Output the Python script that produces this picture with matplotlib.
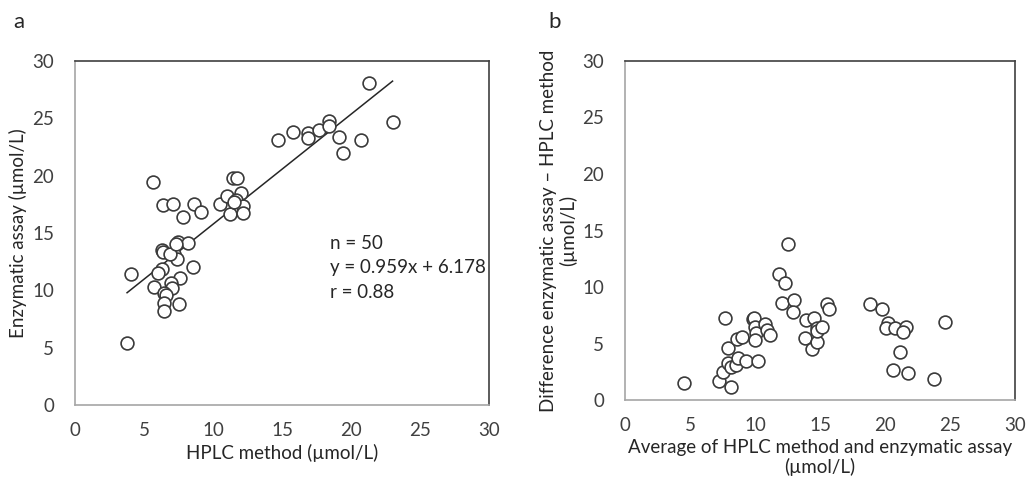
import matplotlib.pyplot as plt
import numpy as np

plt.rcParams['font.family'] = ['Lato', 'DejaVu Sans']

# panel a: HPLC method vs enzymatic assay (umol/L)
hplc = [4.06, 3.77, 6.3, 6.35, 7.46, 8.2, 7.2, 7.4, 6.3, 6.0,
        8.55, 7.6, 5.7, 6.95, 7.0, 6.45, 6.6, 6.45, 6.45, 7.5,
        5.65, 6.4, 7.1, 7.8, 8.6, 9.1, 10.5, 11.0, 11.45, 11.7,
        12.0, 11.65, 12.2, 11.2, 12.2, 14.7, 15.8, 16.9, 16.9, 17.7,
        18.4, 18.4, 19.1, 19.4, 20.7, 21.3, 23.0, 6.9, 7.3, 11.5]
enzym = [11.4, 5.4, 13.5, 13.3, 14.2, 14.1, 13.2, 12.7, 11.9, 11.5,
         12.0, 11.1, 10.3, 10.6, 10.2, 9.76, 9.6, 8.9, 8.2, 8.8,
         19.4, 17.4, 17.5, 16.4, 17.5, 16.8, 17.5, 18.2, 19.8, 19.8,
         18.5, 17.9, 17.35, 16.65, 16.7, 23.1, 23.8, 23.7, 23.3, 24.0,
         24.8, 24.3, 23.4, 22.0, 23.1, 28.07, 24.7, 13.2, 14.0, 17.7]
slope, intercept = 0.959, 6.178

# panel b: Bland-Altman style
avg = [4.5, 7.2, 8.15, 7.5, 7.7, 7.9, 7.9, 8.15, 8.5, 8.7,
       8.6, 9.0, 9.3, 10.2, 9.85, 9.9, 10.0, 10.1, 10.0, 10.8,
       10.9, 11.15, 12.5, 11.85, 12.3, 12.1, 13.0, 12.9, 13.9, 14.5,
       13.85, 14.4, 14.8, 14.8, 14.8, 15.15, 15.5, 15.7, 18.85, 19.8,
       20.2, 20.1, 20.8, 21.6, 21.4, 21.15, 20.6, 21.8, 23.8, 24.6]
diff = [1.5, 1.7, 1.15, 2.5, 7.3, 4.6, 3.3, 2.9, 3.1, 3.7,
        5.4, 5.6, 3.45, 3.45, 7.2, 7.25, 6.5, 5.9, 5.3, 6.7,
        6.2, 5.8, 13.8, 11.15, 10.4, 8.6, 8.9, 7.8, 7.1, 7.25,
        5.5, 4.5, 5.1, 6.4, 6.1, 6.5, 8.5, 8.1, 8.5, 8.1,
        6.8, 6.4, 6.4, 6.5, 6.0, 4.25, 2.65, 2.4, 1.85, 6.9]

ticks = [0, 5, 10, 15, 20, 25, 30]
fs = 13.5

fig = plt.figure(figsize=(10.29, 4.91), dpi=100)
ax1 = fig.add_axes([0.0729, 0.175, 0.4025, 0.701])
ax2 = fig.add_axes([0.6074, 0.185, 0.379, 0.691])


def style(ax):
    ax.set_xlim(0, 30)
    ax.set_ylim(0, 30)
    ax.set_xticks(ticks)
    ax.set_yticks(ticks)
    ax.tick_params(length=0, labelsize=fs, colors='#404040')
    ax.tick_params(axis='x', pad=12)
    ax.tick_params(axis='y', pad=15)
    for s in ['top', 'right']:
        ax.spines[s].set_color('#404040')
        ax.spines[s].set_linewidth(1.2)
    for s in ['left', 'bottom']:
        ax.spines[s].set_color('#a6a6a6')
        ax.spines[s].set_linewidth(1.2)


ax1.scatter(hplc, enzym, s=85, facecolors='white', edgecolors='#3a3a3a',
            linewidths=1.2, zorder=3)
xl = np.array([min(hplc), max(hplc)])
ax1.plot(xl, slope * xl + intercept, color='#262626', lw=1.1, zorder=2)
style(ax1)
ax1.set_xlabel('HPLC method (µmol/L)', fontsize=fs, color='#262626', labelpad=4)
ax1.set_ylabel('Enzymatic assay (µmol/L)', fontsize=fs, color='#262626', labelpad=4)
ax1.text(18.5, 14.1, 'n = 50', fontsize=fs, va='center', color='#262626')
ax1.text(18.5, 12.0, 'y = 0.959x + 6.178', fontsize=fs, va='center', color='#262626')
ax1.text(18.5, 9.8, 'r = 0.88', fontsize=fs, va='center', color='#262626')

ax2.scatter(avg, diff, s=85, facecolors='white', edgecolors='#3a3a3a',
            linewidths=1.2, zorder=3)
style(ax2)
ax2.set_xlabel('Average of HPLC method and enzymatic assay\n(µmol/L)',
               fontsize=fs, color='#262626', labelpad=4, linespacing=1.1)
ax2.set_ylabel('Difference enzymatic assay – HPLC method\n(µmol/L)',
               fontsize=fs, color='#262626', labelpad=4, linespacing=1.1)

fig.text(0.013, 0.955, 'a', fontsize=16, va='center', color='#262626')
fig.text(0.533, 0.955, 'b', fontsize=16, va='center', color='#262626')

fig.savefig('out.png', dpi=100)
